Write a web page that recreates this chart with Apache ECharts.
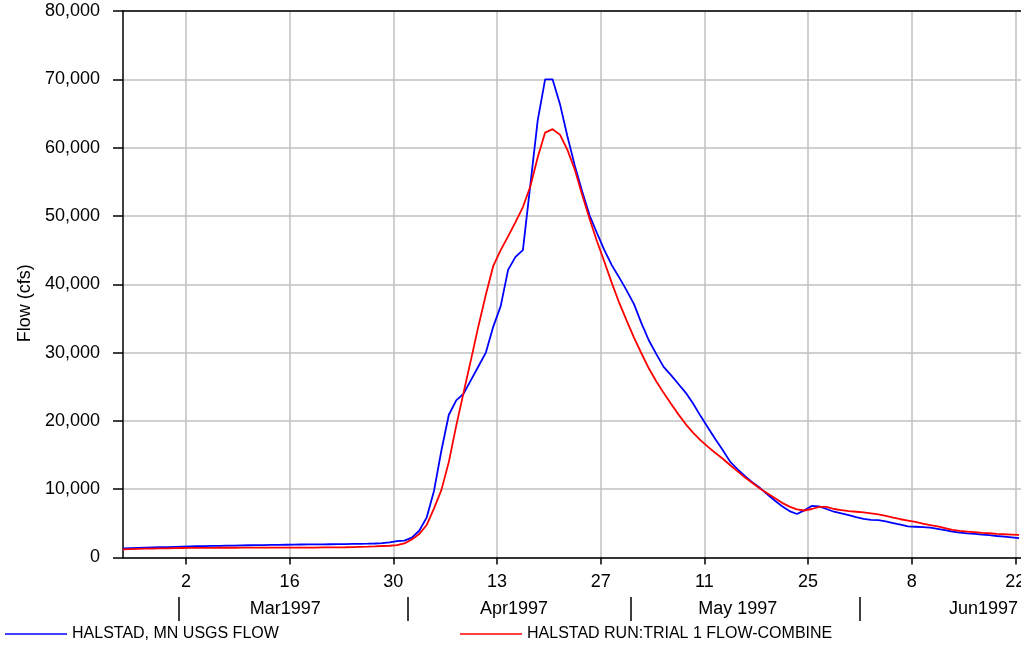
<!DOCTYPE html>
<html>
<head>
<meta charset="utf-8">
<script src="https://cdn.jsdelivr.net/npm/echarts@6/dist/echarts.min.js"></script>
<style>
    html, body { margin: 0; padding: 0; background: #fff; }
    #flowChart { width: 1021px; height: 648px; }
</style>
</head>
<body>
<div id="flowChart"></div>
<script>
    /* daily flows, x in days from 2 Mar 1997 (values at noon) */
    var firstDay = -8.5;
    var lastDay = 112.76;

    var usgsFlow = [1350, 1380, 1410, 1440, 1470, 1500, 1530, 1560, 1590, 1620,
        1650, 1670, 1690, 1710, 1730, 1750, 1770, 1790, 1800, 1820,
        1840, 1850, 1870, 1880, 1900, 1910, 1920, 1930, 1940, 1950,
        1960, 1980, 2000, 2020, 2050, 2100, 2200, 2400, 2460, 2900,
        3920, 5830, 9780, 15700, 20900, 23000, 24000, 26000, 28000, 30000,
        33800, 36800, 42100, 44000, 45000, 54500, 64000, 70000, 70000, 66400,
        61700, 57400, 53600, 50100, 47500, 45000, 42800, 41000, 39100, 37100,
        34300, 31800, 29800, 27900, 26700, 25400, 24100, 22500, 20700, 19000,
        17300, 15700, 14000, 12900, 11900, 11000, 10200, 9250, 8350, 7500,
        6800, 6370, 6900, 7550, 7480, 7100, 6700, 6450, 6200, 5900,
        5650, 5500, 5480, 5300, 5050, 4800, 4550, 4500, 4450, 4370,
        4200, 4000, 3800, 3650, 3540, 3450, 3350, 3280, 3150, 3050,
        2950, 2830];

    var simFlow = [1200, 1230, 1260, 1290, 1310, 1330, 1350, 1370, 1390, 1400,
        1410, 1420, 1420, 1430, 1430, 1430, 1440, 1440, 1440, 1440,
        1440, 1450, 1450, 1450, 1450, 1460, 1460, 1470, 1480, 1490,
        1500, 1520, 1550, 1580, 1620, 1680, 1720, 1800, 2050, 2650,
        3430, 4750, 7200, 9900, 14000, 19300, 24200, 29000, 33900, 38500,
        42700, 45000, 47000, 49100, 51300, 54300, 58600, 62200, 62700, 61900,
        59700, 56800, 53100, 49600, 46300, 43300, 40200, 37300, 34700, 32200,
        29900, 27700, 25800, 24100, 22500, 20950, 19500, 18250, 17150, 16200,
        15300, 14450, 13500, 12600, 11700, 10900, 10100, 9400, 8700, 8000,
        7450, 7050, 6880, 7100, 7400, 7400, 7100, 6950, 6800, 6700,
        6600, 6450, 6300, 6100, 5850, 5600, 5400, 5200, 4950, 4750,
        4550, 4300, 4050, 3900, 3800, 3700, 3600, 3550, 3450, 3400,
        3350, 3300];

    var dayTicks = [0, 14, 28, 42, 56, 70, 84, 98, 112];
    var dayLabels = ['2', '16', '30', '13', '27', '11', '25', '8', '22'];
    var monthStarts = [-1, 30, 60, 91];
    var monthLabelAt = [13.4, 44.3, 74.5, 107.7];
    var monthLabels = ['Mar1997', 'Apr1997', 'May 1997', 'Jun1997'];

    var seriesNames = ['HALSTAD, MN USGS FLOW', 'HALSTAD RUN:TRIAL 1 FLOW-COMBINE'];

    function toPoints(arr) {
        return arr.map(function (v, i) { return [firstDay + i, v]; });
    }

    var fontName = 'Liberation Sans, Arial, sans-serif';
    var black = '#000';
    var gridGray = '#c0c0c0';

    var flowChart = echarts.init(document.getElementById('flowChart'));
    var flowOption = {
        animation: false,
        backgroundColor: '#fff',
        textStyle: { fontFamily: fontName, color: black },
        grid: {
            left: 123,
            right: 0,
            top: 11,
            bottom: 90.5,
            containLabel: false,
            outerBoundsMode: 'none'
        },
        legend: [
            {
                data: [seriesNames[0]],
                left: 5, top: 626, padding: 0,
                icon: 'rect', itemWidth: 62, itemHeight: 1.5,
                textStyle: { fontSize: 16, color: black, fontFamily: fontName }
            },
            {
                data: [seriesNames[1]],
                left: 460, top: 626, padding: 0,
                icon: 'rect', itemWidth: 62, itemHeight: 1.5,
                textStyle: { fontSize: 16, color: black, fontFamily: fontName }
            }
        ],
        xAxis: [
            {
                type: 'value',
                min: firstDay, max: lastDay,
                position: 'bottom',
                axisLine: { show: true, onZero: false, lineStyle: { color: black, width: 1.5 } },
                axisTick: { show: true, customValues: dayTicks, length: 7, lineStyle: { color: black, width: 1.5 } },
                axisLabel: {
                    show: true,
                    customValues: dayTicks,
                    margin: 16,
                    fontSize: 18,
                    color: black,
                    fontFamily: fontName,
                    formatter: function (v) {
                        var i = dayTicks.indexOf(Math.round(v));
                        return i < 0 ? '' : dayLabels[i];
                    }
                },
                splitLine: { show: true, lineStyle: { color: gridGray, width: 1.5 } }
            },
            {
                type: 'value',
                min: firstDay, max: lastDay,
                position: 'bottom',
                offset: 39.5,
                axisLine: { show: false, onZero: false },
                axisTick: { show: true, customValues: monthStarts, length: 24, lineStyle: { color: black, width: 1.5 } },
                axisLabel: {
                    show: true,
                    customValues: monthLabelAt,
                    margin: 3,
                    fontSize: 18,
                    color: black,
                    fontFamily: fontName,
                    formatter: function (v) {
                        for (var i = 0; i < monthLabelAt.length; i++) {
                            if (Math.abs(monthLabelAt[i] - v) < 0.01) return monthLabels[i];
                        }
                        return '';
                    }
                },
                splitLine: { show: false }
            },
            {
                type: 'value',
                min: firstDay, max: lastDay,
                position: 'top',
                z: 10,
                axisLine: { show: true, onZero: false, lineStyle: { color: black, width: 1.5 } },
                axisTick: { show: false },
                axisLabel: { show: false },
                splitLine: { show: false }
            }
        ],
        yAxis: {
            type: 'value',
            min: 0, max: 80000, interval: 10000,
            name: 'Flow (cfs)',
            nameLocation: 'middle',
            nameRotate: 90,
            nameGap: 88,
            nameTextStyle: { fontSize: 18, color: black, fontFamily: fontName, padding: [0, 38, 0, 0] },
            axisLine: { show: true, onZero: false, lineStyle: { color: black, width: 1.5 } },
            axisTick: { show: true, length: 10, lineStyle: { color: black, width: 1.5 } },
            axisLabel: {
                margin: 23,
                fontSize: 18,
                color: black,
                fontFamily: fontName,
                formatter: function (v) { return v.toLocaleString('en-US'); }
            },
            splitLine: { show: true, lineStyle: { color: gridGray, width: 1.5 } }
        },
        series: [
            {
                name: seriesNames[0],
                type: 'line',
                xAxisIndex: 0,
                symbol: 'none',
                lineStyle: { color: '#0000ff', width: 1.8 },
                itemStyle: { color: '#0000ff' },
                data: toPoints(usgsFlow)
            },
            {
                name: seriesNames[1],
                type: 'line',
                xAxisIndex: 0,
                symbol: 'none',
                lineStyle: { color: '#ff0000', width: 1.8 },
                itemStyle: { color: '#ff0000' },
                data: toPoints(simFlow)
            }
        ]
    };
    flowChart.setOption(flowOption);
</script>
</body>
</html>
